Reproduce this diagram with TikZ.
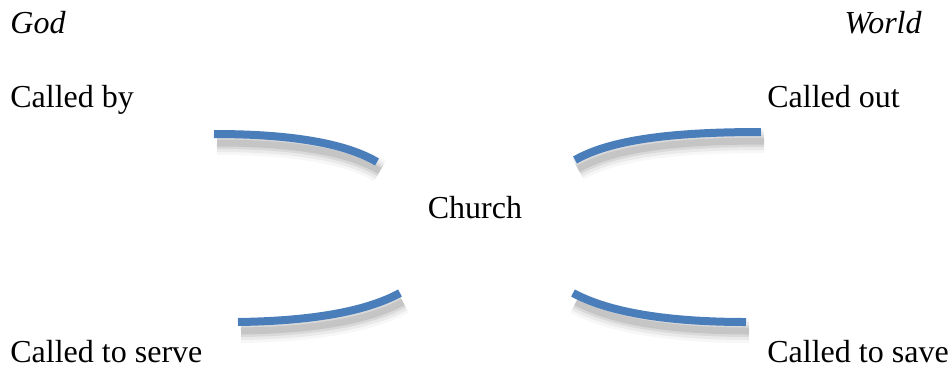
\documentclass[tikz,border=0pt]{standalone}
\usepackage{fontspec}
\setmainfont{Liberation Serif}
\usepackage{xcolor}
\usepackage{tikz}

\definecolor{arcblue}{RGB}{74,126,187}

\begin{document}
\begin{tikzpicture}[
    x=0.5pt, y=-0.5pt,
    lbl/.style={font=\fontsize{16}{19}\selectfont, inner sep=0pt},
    arc/.style={line width=4pt, draw=arcblue,
      preaction={draw=black, line width=12pt, draw opacity=0.03,
        transform canvas={xshift=1.5pt, yshift=-4.5pt}},
      preaction={draw=black, line width=9pt, draw opacity=0.05,
        transform canvas={xshift=1.5pt, yshift=-4.5pt}},
      preaction={draw=black, line width=6pt, draw opacity=0.07,
        transform canvas={xshift=1.5pt, yshift=-4.5pt}},
      preaction={draw=black, line width=3.5pt, draw opacity=0.09,
        transform canvas={xshift=1.5pt, yshift=-4.5pt}}}
  ]

  \useasboundingbox (0,0) rectangle (950,371);

  % ══ headings ══════════════════════════════════════════════════════════════
  \node[lbl, anchor=base west, font=\fontsize{16}{19}\selectfont\itshape]
    (god) at (10,33) {God};
  \node[lbl, anchor=base east, font=\fontsize{16}{19}\selectfont\itshape]
    (world) at (922,33) {World};

  % ══ callings ══════════════════════════════════════════════════════════════
  \node[lbl, anchor=base west] (by)    at (10,107)  {Called by};
  \node[lbl, anchor=base west] (out)   at (767,107) {Called out};
  \node[lbl, anchor=base west] (serve) at (10,362)  {Called to serve};
  \node[lbl, anchor=base west] (save)  at (767,362) {Called to save};

  % centre
  \node[lbl, anchor=base] (church) at (475,218) {Church};

  % ══ arcs ══════════════════════════════════════════════════════════════════
  % top left
  \draw[arc] (214,134) .. controls (290,134) and (345,143) .. (377,162);
  % top right
  \draw[arc] (575,160) .. controls (610,140) and (670,132) .. (761,132);
  % bottom left
  \draw[arc] (238,322) .. controls (310,321) and (365,312) .. (400,293);
  % bottom right
  \draw[arc] (573,293) .. controls (610,313) and (670,322) .. (746,322);

\end{tikzpicture}
\end{document}
